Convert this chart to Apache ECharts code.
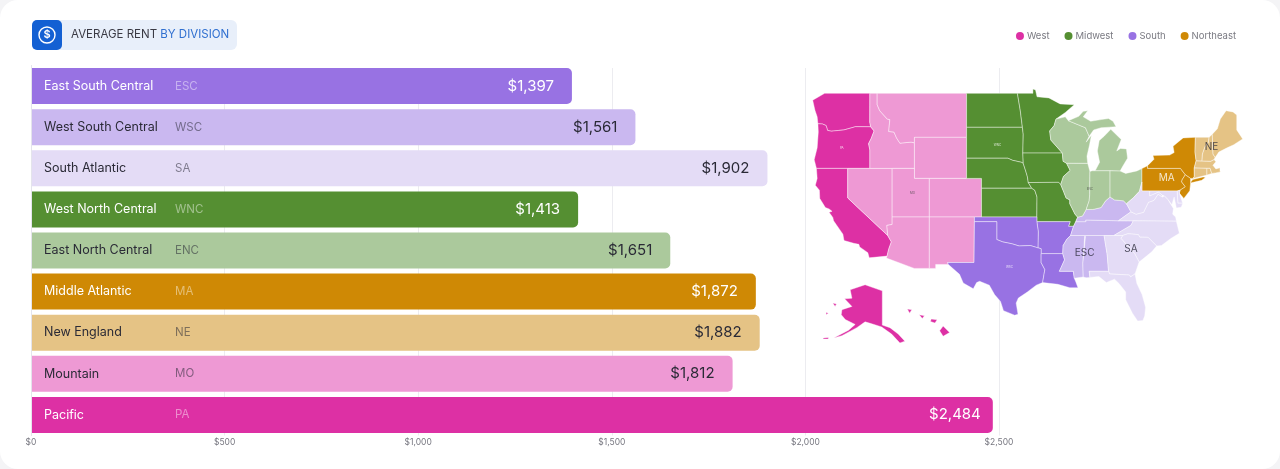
<!DOCTYPE html>
<html><head><meta charset="utf-8">
<script src="https://cdn.jsdelivr.net/npm/echarts@6/dist/echarts.min.js"></script>
<style>html,body{margin:0;padding:0;background:#f4f4f6;overflow:hidden}
#c{width:1280px;height:469px;background:#fff;border-radius:18px;overflow:hidden}</style></head>
<body><div id="c"></div>
<script>
const categories=['East South Central','West South Central','South Atlantic','West North Central','East North Central','Middle Atlantic','New England','Mountain','Pacific'];
const codes=['ESC','WSC','SA','WNC','ENC','MA','NE','MO','PA'];
const rents=[1397,1561,1902,1413,1651,1872,1882,1812,2484];
const barColors=['#9872E3','#CAB8F0','#E4DCF6','#558F32','#ABC99C','#CF8905','#E5C385','#EE99D4','#DD30A4'];
const lightText=['ESC','WNC','MA','PA'];
const legendNames=['West','Midwest','South','Northeast'];
const legendColors=['#DD30A4','#558F32','#9872E3','#CF8905'];
const divisionStates={
 PA:['WA','OR','CA','AK','HI'],
 MO:['ID','MT','WY','NV','UT','CO','AZ','NM'],
 WNC:['ND','SD','NE','KS','MN','IA','MO'],
 ENC:['WI','MI','IL','IN','OH'],
 WSC:['KY','TN','MS','AL'],
 ESC:['TX','OK','AR','LA'],
 SA:['DE','MD','VA','WV','NC','SC','GA','FL'],
 MA:['NY','PA','NJ'],
 NE:['ME','NH','VT','MA','RI','CT']
};
const mapLabels=[
 {name:'ESC',value:[-88.2,33.05],size:10,color:'#2b2b3a'},
 {name:'SA',value:[-82,33.5],size:10,color:'#2b2b3a'},
 {name:'MA',value:[-77.2,41],size:10,color:'#fff'},
 {name:'NE',value:[-71.2,44.1],size:10,color:'#2b2b3a'},
 {name:'PA',value:[-120.8,44],size:3,color:'#fff'},
 {name:'MO',value:[-111.3,39.5],size:3,color:'#444'},
 {name:'WNC',value:[-99.9,44.3],size:3,color:'#fff'},
 {name:'ENC',value:[-87.5,39.9],size:3,color:'#444'},
 {name:'WSC',value:[-98.3,31.5],size:3,color:'#fff'}
];
// State outlines, simplified, as [lon,lat]. AK and HI sit in their usual inset position.
const states={
WA:[[[-124.7,48.4],[-123.1,49],[-122.8,49],[-117.03,49],[-117.04,46.4],[-116.92,45.99],[-118.98,46],[-119.3,45.93],[-120.5,45.7],[-121.2,45.65],[-122.2,45.58],[-122.7,45.65],[-122.9,46.1],[-123.4,46.25],[-124,46.27],[-124.1,46.9],[-124.4,47.5]]],
OR:[[[-124,46.27],[-123.4,46.25],[-122.9,46.1],[-122.7,45.65],[-122.2,45.58],[-121.2,45.65],[-120.5,45.7],[-119.3,45.93],[-118.98,46],[-116.92,45.99],[-116.46,45.6],[-116.85,44.9],[-117.2,44.4],[-117.03,43.8],[-117.03,42],[-120,42],[-124.2,42],[-124.5,42.85],[-124.1,44],[-123.95,45.5]]],
CA:[[[-124.2,42],[-120,42],[-120,39],[-114.63,35],[-114.15,34.3],[-114.5,33.5],[-114.72,32.72],[-117.12,32.53],[-117.3,33.1],[-118.4,33.75],[-118.5,34.03],[-119.2,34.15],[-120.5,34.45],[-120.65,35.15],[-121.9,36.6],[-122,36.95],[-122.5,37.5],[-122.1,37.6],[-122.5,37.85],[-123,38],[-123.75,38.95],[-123.8,39.8],[-124.35,40.3],[-124.1,41]]],
NV:[[[-120,42],[-117.03,42],[-114.04,42],[-114.04,37],[-114.04,36.2],[-114.75,36.1],[-114.63,35],[-120,39]]],
ID:[[[-117.03,49],[-116.05,49],[-116.05,48],[-115.7,47.45],[-114.7,46.7],[-114.35,46.65],[-114.5,45.55],[-113.8,45.5],[-113.45,44.95],[-113,44.45],[-111.5,44.55],[-111.05,44.48],[-111.05,42],[-114.04,42],[-117.03,42],[-117.03,43.8],[-117.2,44.4],[-116.85,44.9],[-116.46,45.6],[-116.92,45.99],[-117.04,46.4]]],
MT:[[[-116.05,49],[-104.05,49],[-104.05,45.94],[-104.05,45],[-111.05,45],[-111.05,44.48],[-111.5,44.55],[-113,44.45],[-113.45,44.95],[-113.8,45.5],[-114.5,45.55],[-114.35,46.65],[-114.7,46.7],[-115.7,47.45],[-116.05,48]]],
WY:[[[-111.05,45],[-104.05,45],[-104.05,43],[-104.05,41],[-111.05,41]]],
UT:[[[-114.04,42],[-111.05,42],[-111.05,41],[-109.05,41],[-109.05,37],[-114.04,37]]],
CO:[[[-109.05,41],[-104.05,41],[-102.05,41],[-102.05,40],[-102.05,37],[-103,37],[-109.05,37]]],
AZ:[[[-114.04,37],[-109.05,37],[-109.05,31.33],[-111.07,31.33],[-114.81,32.5],[-114.72,32.72],[-114.5,33.5],[-114.15,34.3],[-114.63,35],[-114.75,36.1],[-114.04,36.2]]],
NM:[[[-109.05,37],[-103,37],[-103,36.5],[-103.05,32],[-106.6,32],[-106.5,31.78],[-108.2,31.78],[-108.2,31.33],[-109.05,31.33]]],
ND:[[[-104.05,49],[-97.23,49],[-96.85,47.5],[-96.56,45.94],[-104.05,45.94]]],
SD:[[[-104.05,45.94],[-96.56,45.94],[-96.45,45.3],[-96.5,43.5],[-96.45,42.5],[-96.7,42.6],[-97.9,42.8],[-98.5,43],[-104.05,43]]],
NE:[[[-104.05,43],[-98.5,43],[-97.9,42.8],[-96.7,42.6],[-96.45,42.5],[-96.1,41.7],[-95.9,41.2],[-95.77,40.58],[-95.31,40],[-102.05,40],[-102.05,41],[-104.05,41]]],
KS:[[[-102.05,40],[-95.31,40],[-94.9,39.8],[-94.6,39.1],[-94.62,37],[-102.05,37]]],
MN:[[[-97.23,49],[-95.15,49],[-95.15,49.38],[-94.8,49.3],[-94.6,48.7],[-93,48.6],[-91.5,48.07],[-89.6,48],[-90.8,47.3],[-92.05,46.7],[-92.3,46.1],[-92.9,45.6],[-92.75,44.75],[-91.2,43.5],[-96.5,43.5],[-96.45,45.3],[-96.56,45.94],[-96.85,47.5]]],
IA:[[[-96.5,43.5],[-91.2,43.5],[-91.1,42.7],[-90.64,42.51],[-90.15,41.8],[-91.05,41.2],[-91.42,40.38],[-91.7,40.6],[-95.77,40.58],[-95.9,41.2],[-96.1,41.7],[-96.45,42.5]]],
MO:[[[-95.77,40.58],[-91.7,40.6],[-91.42,40.38],[-91,39.6],[-90.7,39],[-90.2,38.8],[-90.2,38.4],[-89.5,37.3],[-89.15,36.98],[-89.4,36.5],[-89.7,36],[-90.37,36],[-90.15,36.5],[-94.62,36.5],[-94.62,37],[-94.6,39.1],[-94.9,39.8],[-95.31,40]]],
AR:[[[-94.62,36.5],[-90.15,36.5],[-90.37,36],[-89.7,36],[-90.1,35],[-90.6,34.6],[-91.1,33.9],[-91.15,33],[-94.05,33],[-94.05,33.55],[-94.48,33.64],[-94.43,35.4]]],
OK:[[[-103,37],[-94.62,37],[-94.62,36.5],[-94.43,35.4],[-94.48,33.64],[-95.5,33.9],[-97,33.85],[-98,34.1],[-99.2,34.3],[-100,34.56],[-100,36.5],[-103,36.5]]],
TX:[[[-106.6,32],[-103.05,32],[-103,36.5],[-100,36.5],[-100,34.56],[-99.2,34.3],[-98,34.1],[-97,33.85],[-95.5,33.9],[-94.48,33.64],[-94.05,33.55],[-94.05,33],[-94.05,31.99],[-93.55,31.2],[-93.85,29.7],[-94.7,29.4],[-95.9,28.6],[-97.1,27.9],[-97.4,27.3],[-97.15,25.96],[-97.6,25.85],[-99.1,26.4],[-99.5,27.5],[-100.3,28.3],[-101,29.4],[-102.3,29.85],[-102.7,29.7],[-103.15,28.98],[-104.5,29.65],[-105,30.65],[-106.5,31.78]]],
LA:[[[-94.05,33],[-91.15,33],[-90.9,32.3],[-91.6,31],[-89.73,31],[-89.6,30.2],[-89.4,29.8],[-89.1,29.1],[-90.2,29.1],[-91.8,29.5],[-93.85,29.7],[-93.55,31.2],[-94.05,31.99]]],
MS:[[[-90.1,35],[-88.2,35],[-88.1,34.9],[-88.45,31.9],[-88.4,30.35],[-89.6,30.2],[-89.73,31],[-91.6,31],[-90.9,32.3],[-91.15,33],[-91.1,33.9],[-90.6,34.6]]],
AL:[[[-88.2,35],[-85.6,35],[-85.18,32.87],[-85,31],[-87.6,31],[-87.5,30.3],[-88,30.25],[-88.4,30.35],[-88.45,31.9],[-88.1,34.9]]],
TN:[[[-89.7,36],[-89.4,36.5],[-88.05,36.5],[-88.07,36.68],[-83.68,36.6],[-81.68,36.59],[-82,36.1],[-84.3,35],[-85.6,35],[-88.2,35],[-90.1,35]]],
KY:[[[-89.4,36.5],[-89.15,36.98],[-88.5,37.1],[-88,37.8],[-87.1,37.8],[-86,38],[-85.4,38.7],[-84.8,39.1],[-84.2,38.8],[-83,38.7],[-82.6,38.4],[-82,37.55],[-83.68,36.6],[-88.07,36.68],[-88.05,36.5]]],
IL:[[[-90.64,42.51],[-87.8,42.5],[-87.5,41.7],[-87.53,39.35],[-87.6,38.7],[-88,37.8],[-88.5,37.1],[-89.15,36.98],[-89.5,37.3],[-90.2,38.4],[-90.2,38.8],[-90.7,39],[-91,39.6],[-91.42,40.38],[-91.05,41.2],[-90.15,41.8]]],
WI:[[[-92.05,46.7],[-90.8,46.9],[-90.4,46.55],[-88.1,45.9],[-87.6,45.1],[-88,44.55],[-87.3,45.2],[-87.55,44.3],[-87.9,43.2],[-87.8,42.5],[-90.64,42.51],[-91.1,42.7],[-91.2,43.5],[-92.75,44.75],[-92.9,45.6],[-92.3,46.1]]],
MI:[[[-90.4,46.55],[-89,46.95],[-88.4,47.4],[-87.8,47.45],[-88.4,46.9],[-87.4,46.5],[-86,46.65],[-85,46.75],[-84.4,46.5],[-84,46],[-84.9,45.95],[-86,45.9],[-87,45.7],[-87.6,45.1],[-88.1,45.9]],[[-86.8,41.76],[-84.8,41.76],[-83.45,41.73],[-83.1,42.2],[-82.45,43],[-82.6,43.9],[-83.4,43.95],[-83.9,43.7],[-83.3,44.8],[-84.7,45.75],[-85.6,45.1],[-86.25,44.7],[-86.5,43.7],[-86.2,42.6]]],
IN:[[[-87.5,41.7],[-87.2,41.76],[-84.8,41.76],[-84.8,39.1],[-85.4,38.7],[-86,38],[-87.1,37.8],[-88,37.8],[-87.6,38.7],[-87.53,39.35]]],
OH:[[[-84.8,41.76],[-83.45,41.73],[-82.7,41.5],[-81.2,41.75],[-80.52,41.98],[-80.52,40.64],[-80.85,39.7],[-81.7,39],[-82.6,38.4],[-83,38.7],[-84.2,38.8],[-84.8,39.1]]],
PA:[[[-80.52,41.98],[-79.76,42.27],[-79.76,42],[-75.35,42],[-74.7,41.36],[-75.1,40.9],[-75.2,40.65],[-74.7,40.15],[-75.4,39.8],[-75.8,39.72],[-79.49,39.72],[-80.52,39.72],[-80.52,40.64]]],
NY:[[[-79.76,42],[-79.76,42.27],[-78.9,42.9],[-79.05,43.27],[-76.8,43.3],[-76.2,43.55],[-76.35,44.15],[-75,44.95],[-73.35,45],[-73.4,43.6],[-73.25,42.75],[-73.5,42.05],[-73.49,41.2],[-73.65,41],[-74,41],[-74.7,41.36],[-75.35,42]],[[-74,40.6],[-73.7,40.88],[-72.3,41.15],[-72,41.1],[-72.5,40.8],[-73.9,40.55]]],
NJ:[[[-74.7,41.36],[-74,41],[-74,40.45],[-74.1,39.75],[-74.9,38.95],[-75.5,39.5],[-75.4,39.8],[-74.7,40.15],[-75.2,40.65],[-75.1,40.9]]],
CT:[[[-73.5,42.05],[-71.8,42.02],[-71.8,41.33],[-73.65,41],[-73.49,41.2]]],
RI:[[[-71.8,42.02],[-71.38,42.02],[-71.15,41.5],[-71.8,41.33]]],
MA:[[[-73.25,42.75],[-72.46,42.73],[-71.3,42.7],[-70.85,42.87],[-70.6,42.65],[-71,42.3],[-70.6,41.95],[-70.05,42.05],[-70.05,41.8],[-70,41.65],[-70.65,41.55],[-71.15,41.5],[-71.38,42.02],[-71.8,42.02],[-73.5,42.05]]],
VT:[[[-73.35,45],[-71.5,45.01],[-71.6,44.5],[-72.05,44.1],[-72.4,43.4],[-72.46,42.73],[-73.25,42.75],[-73.4,43.6]]],
NH:[[[-71.5,45.01],[-71.08,45.3],[-70.98,43.4],[-70.7,43.07],[-70.85,42.87],[-71.3,42.7],[-72.46,42.73],[-72.4,43.4],[-72.05,44.1],[-71.6,44.5]]],
ME:[[[-71.08,45.3],[-70.4,45.8],[-70,46.7],[-69.23,47.46],[-68.3,47.35],[-67.8,47.07],[-67.8,45.7],[-67,44.85],[-68.2,44.3],[-69.1,44],[-70.2,43.6],[-70.7,43.07],[-70.98,43.4]]],
DE:[[[-75.8,39.72],[-75.4,39.8],[-75.5,39.5],[-75.05,38.45],[-75.7,38.46]]],
MD:[[[-79.49,39.72],[-75.8,39.72],[-75.7,38.46],[-75.05,38.45],[-75.25,38.03],[-75.9,37.95],[-76.2,39.1],[-76.5,38.3],[-77.05,38.85],[-77.5,39.2],[-77.8,39.3],[-78.3,39.6],[-79.49,39.2]]],
VA:[[[-83.68,36.6],[-81.68,36.59],[-75.9,36.55],[-76,37],[-76.4,37.3],[-76.3,37.9],[-77.05,38.85],[-77.5,39.2],[-77.8,39.1],[-78.35,39.4],[-78.9,38.75],[-79.65,38.55],[-80.3,37.5],[-81.3,37.3],[-82,37.55]]],
WV:[[[-82.6,38.4],[-81.7,39],[-80.85,39.7],[-80.52,40.64],[-80.52,39.72],[-79.49,39.72],[-79.49,39.2],[-78.3,39.6],[-77.8,39.3],[-77.8,39.1],[-78.35,39.4],[-78.9,38.75],[-79.65,38.55],[-80.3,37.5],[-81.3,37.3],[-82,37.55]]],
NC:[[[-84.3,35],[-82,36.1],[-81.68,36.59],[-75.9,36.55],[-75.5,35.25],[-76.6,34.7],[-77.9,33.9],[-78.55,33.85],[-79.7,34.8],[-80.8,34.82],[-81,35.1],[-82.4,35.2],[-83.1,35]]],
SC:[[[-83.1,35],[-82.4,35.2],[-81,35.1],[-80.8,34.82],[-79.7,34.8],[-78.55,33.85],[-79.2,33.2],[-80.9,32.05],[-81.5,33],[-83.35,34.7]]],
GA:[[[-85.6,35],[-84.3,35],[-83.1,35],[-83.35,34.7],[-81.5,33],[-80.9,32.05],[-81.45,30.7],[-82.05,30.36],[-82.2,30.57],[-84.86,30.7],[-85,31],[-85.18,32.87]]],
FL:[[[-87.6,31],[-85,31],[-84.86,30.7],[-82.2,30.57],[-82.05,30.36],[-81.45,30.7],[-81.2,29.6],[-80.5,28.3],[-80.03,26.8],[-80.15,25.75],[-80.4,25.2],[-81.1,25.15],[-81.8,26.1],[-82.7,27.7],[-82.7,28.6],[-83.6,29.6],[-84.2,30.1],[-85.3,29.7],[-86.3,30.4],[-87.5,30.3]]],
AK:[[[-119.67,28.86],[-117.67,29.45],[-115.36,28.74],[-115.36,24.66],[-114.33,24.35],[-113.22,23.56],[-112.33,22.7],[-113,22.47],[-114.11,23.56],[-115.44,24.43],[-116.78,24.82],[-117.67,25.05],[-118.78,24.35],[-120.78,23.37],[-121.89,23.09],[-119.89,24.04],[-119,24.74],[-120.33,25.33],[-120.87,25.92],[-120.78,26.51],[-119.44,26.9],[-120.42,27.8],[-119.44,27.88]],[[-122,27.3],[-121.5,27.2],[-121.7,26.9]],[[-122.9,26.2],[-122.6,26.1],[-122.9,25.9]],[[-123.3,23.1],[-122.6,23.15],[-122.6,22.95],[-123.3,22.95]]],
HI:[[[-107.67,23.96],[-107.2,24.55],[-106.33,23.76],[-107.2,23.29]],[[-108.8,25.4],[-108.0,25.3],[-108.3,24.9],[-108.9,25.1]],[[-110.4,25.9],[-109.7,25.8],[-110.0,25.45]],[[-112,26.6],[-111.4,26.5],[-111.7,26.1]]]
};

const features=Object.keys(states).map(n=>({type:'Feature',properties:{name:n},geometry:{type:'MultiPolygon',coordinates:states[n].map(r=>[r])}}));
echarts.registerMap('usDivisions',{type:'FeatureCollection',features});
const regions=[];
codes.forEach((c,i)=>divisionStates[c].forEach(s=>regions.push({name:s,itemStyle:{areaColor:barColors[i]}})));
const RAD=Math.PI/180;
const projection={
 project:p=>[p[0],-Math.log(Math.tan(Math.PI/4+p[1]*RAD/2))/RAD],
 unproject:p=>[p[0],(2*Math.atan(Math.exp(-p[1]*RAD))-Math.PI/2)/RAD]
};
const rich={};
['l','d'].forEach(k=>{
 const col=k==='l'?'#ffffff':'#2a2a36';
 rich['n'+k]={color:col,fontSize:12.5,fontFamily:'Inter',width:131,align:'left'};
 rich['c'+k]={color:k==='l'?'rgba(255,255,255,.45)':'rgba(42,42,54,.55)',fontSize:11.5,fontFamily:'Inter',align:'left'};
});
const chart=echarts.init(document.getElementById('c'),null,{renderer:'canvas'});
chart.setOption({
 animation:false,
 title:{left:71,top:29,padding:0,text:'{a|AVERAGE RENT} {b|BY DIVISION}',textStyle:{fontWeight:'normal',fontSize:11.5,fontFamily:'Inter',rich:{a:{color:'#3a3a44',fontSize:11.5,fontFamily:'Inter',fontWeight:'normal'},b:{color:'#2F6FD0',fontSize:11.5,fontFamily:'Inter',fontWeight:'normal'}}}},
 legend:{right:39,top:26,icon:'circle',itemWidth:8,itemHeight:8,itemGap:15,data:legendNames,textStyle:{color:'#7a7a82',fontSize:9.5,fontFamily:'Inter',padding:[0,0,0,-2]},selectedMode:false},
 graphic:[
  {type:'rect',z:-1,shape:{x:32,y:20,width:205,height:30,r:6},style:{fill:'#E8EFFA'}},
  {type:'rect',z:1,shape:{x:32,y:20,width:30,height:30,r:5},style:{fill:'#1360D3'}},
  {type:'circle',z:2,shape:{cx:47,cy:35,r:8},style:{fill:'none',stroke:'#fff',lineWidth:1.4}},
  {type:'text',z:2,x:47,y:35,style:{text:'$',fill:'#fff',font:'600 11px Inter',align:'center',verticalAlign:'middle'}},
  {type:'rect',z:1,shape:{x:200,y:62,width:820,height:6},style:{fill:'#fff'}}
 ],
 grid:{left:31,width:968,top:65.5,height:370,containLabel:false},
 xAxis:{type:'value',min:0,max:2500,interval:500,
  axisLine:{show:false},axisTick:{show:false},
  splitLine:{show:true,lineStyle:{color:'#ECECF0',width:1}},
  axisLabel:{color:'#777780',fontSize:8.5,fontFamily:'Inter',margin:2,formatter:v=>'$'+v.toLocaleString('en-US')}},
 yAxis:{type:'category',inverse:true,data:categories,z:10,
  axisLine:{show:true,lineStyle:{color:'#E4E4EC'}},axisTick:{show:false},
  axisLabel:{inside:true,margin:13,align:'left',rich,
   formatter:(v,i)=>{const k=lightText.includes(codes[i])?'l':'d';return '{n'+k+'|'+v+'}{c'+k+'|'+codes[i]+'}';}}},
 geo:{map:'usDivisions',projection,left:812.7,width:430,top:89,height:254,roam:false,silent:true,z:3,
  itemStyle:{areaColor:'#ddd',borderColor:'rgba(255,255,255,.6)',borderWidth:.7},
  emphasis:{disabled:true},select:{disabled:true},label:{show:false},regions},
 series:[
  {type:'bar',barWidth:36,data:rents.map((v,i)=>({value:v,itemStyle:{color:barColors[i]},
    label:{color:lightText.includes(codes[i])?'#fff':'#2a2a36',distance:codes[i]==='PA'?12:18}})),
   itemStyle:{borderRadius:[0,5,5,0]},
   label:{show:true,position:'insideRight',fontFamily:'Inter',fontSize:15,formatter:p=>'$'+p.value.toLocaleString('en-US')},
   silent:true},
  {type:'scatter',coordinateSystem:'geo',geoIndex:0,symbolSize:0,silent:true,z:5,
   data:mapLabels.map(d=>({name:d.name,value:d.value,label:{color:d.color,fontSize:d.size}})),
   label:{show:true,position:'inside',fontFamily:'Inter',formatter:'{b}'}},
  ...legendNames.map((n,i)=>({type:'line',name:n,data:[],itemStyle:{color:legendColors[i]},lineStyle:{color:legendColors[i]}}))
 ]
});
</script></body></html>
